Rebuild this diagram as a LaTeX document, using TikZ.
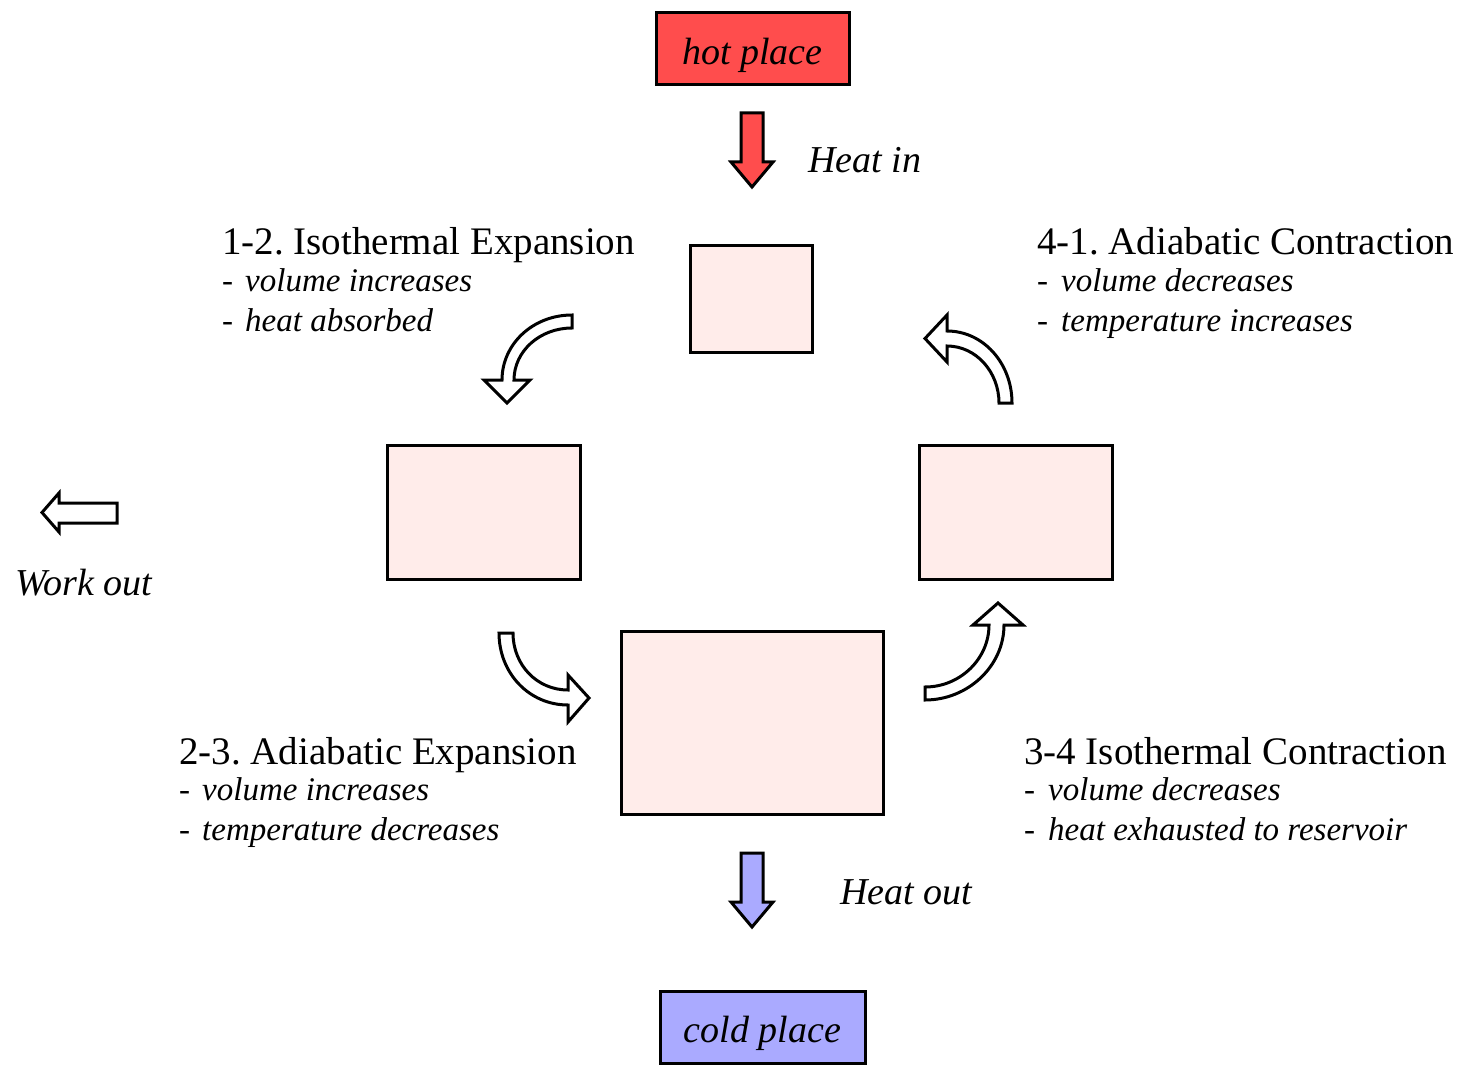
\documentclass[tikz,border=0pt]{standalone}
\usepackage{fontspec}
\setmainfont{Liberation Serif}
\frenchspacing
\definecolor{hotred}{HTML}{FF4D4D}
\definecolor{coldblue}{HTML}{AAAAFF}
\definecolor{boxpink}{HTML}{FFECEA}
\begin{document}
\begin{tikzpicture}[x=1pt,y=-1pt,
  box/.style={draw=black, line width=3pt, fill=boxpink, inner sep=0pt},
  blockarrow/.style={draw=black, line width=3pt, line join=miter, fill=white},
  headtxt/.style={font=\fontsize{39}{46}\selectfont, anchor=base west, inner sep=0pt},
  itemtxt/.style={font=\fontsize{33}{40}\selectfont\itshape, anchor=base west, inner sep=0pt},
  lbltxt/.style={font=\fontsize{38}{44}\selectfont\itshape, anchor=base west, inner sep=0pt}]
\useasboundingbox (0,0) rectangle (1461,1067);

% reservoirs
\node[box, fill=hotred, minimum width=193pt, minimum height=72pt, text depth=0pt, font=\fontsize{38}{44}\selectfont\itshape] (hot) at (752.5,49) {\raisebox{-5pt}{hot place}};
\node[box, fill=coldblue, minimum width=205pt, minimum height=72pt, text depth=0pt, font=\fontsize{38}{44}\selectfont\itshape] (cold) at (762.5,1027) {\raisebox{-5pt}{cold place}};

% state boxes
\node[box, minimum width=122pt, minimum height=106pt] (s1) at (751,299) {};
\node[box, minimum width=193pt, minimum height=134pt] (s2) at (483.5,512) {};
\node[box, minimum width=193pt, minimum height=134pt] (s4) at (1015.5,512) {};
\node[box, minimum width=262pt, minimum height=183pt] (s3) at (752,722.5) {};

% heat in / heat out arrows
\draw[blockarrow, fill=hotred] (741,113) -- (763,113) -- (763,162) -- (773,162) -- (752,187) -- (731,162) -- (741,162) -- cycle;
\draw[blockarrow, fill=coldblue] (741,853) -- (763,853) -- (763,902) -- (773,902) -- (752,927) -- (731,902) -- (741,902) -- cycle;
% work out arrow
\draw[blockarrow] (117,503) -- (117,523) -- (59,523) -- (59,532) -- (42,512.5) -- (59,493) -- (59,503) -- cycle;

% curved arrows
% 1-2 (top left)
\draw[blockarrow] (572,315) .. controls (533,315) and (502,344) .. (502,380)
  -- (484,380) -- (507,403) -- (530,380) -- (514,380)
  .. controls (514,351) and (540,328) .. (572,328) -- cycle;
% 4-1 (top right)
\draw[blockarrow] (1012,403) .. controls (1012,363) and (983,331) .. (947,331)
  -- (947,315) -- (925,338.5) -- (947,362) -- (947,346)
  .. controls (976,346) and (999,372) .. (999,403) -- cycle;
% 2-3 (bottom left)
\draw[blockarrow] (499,633) .. controls (499,673) and (529,705) .. (568,705)
  -- (568,722) -- (589,698) -- (568,675) -- (568,690)
  .. controls (537,690) and (513,665) .. (513,633) -- cycle;
% 3-4 (bottom right)
\draw[blockarrow] (925,700) .. controls (968,700) and (1004,666) .. (1004,625)
  -- (1023,625) -- (998,603) -- (973,625) -- (989,625)
  .. controls (989,659) and (960,687) .. (925,687) -- cycle;

% labels
\node[lbltxt] (heatin) at (808,173) {Heat in};
\node[lbltxt] (heatout) at (840,904) {Heat out};
\node[lbltxt] (workout) at (15,595) {Work out};

\node[headtxt] (h12) at (222,255) {1-2. Isothermal Expansion};
\node[itemtxt] (h12a) at (222,291) {\makebox[23pt][l]{\upshape -}volume increases};
\node[itemtxt] (h12b) at (222,331) {\makebox[23pt][l]{\upshape -}heat absorbed};

\node[headtxt] (h41) at (1037,255) {4-1. Adiabatic Contraction};
\node[itemtxt] (h41a) at (1037,291) {\makebox[24pt][l]{\upshape -}volume decreases};
\node[itemtxt] (h41b) at (1037,331) {\makebox[24pt][l]{\upshape -}temperature increases};

\node[headtxt] (h23) at (179,764) {2-3. Adiabatic Expansion};
\node[itemtxt] (h23a) at (179,800) {\makebox[23pt][l]{\upshape -}volume increases};
\node[itemtxt] (h23b) at (179,840) {\makebox[23pt][l]{\upshape -}temperature decreases};

\node[headtxt] (h34) at (1024,764) {3-4 Isothermal Contraction};
\node[itemtxt] (h34a) at (1024,800) {\makebox[24pt][l]{\upshape -}volume decreases};
\node[itemtxt] (h34b) at (1024,840) {\makebox[24pt][l]{\upshape -}heat exhausted to reservoir};
\end{tikzpicture}
\end{document}
